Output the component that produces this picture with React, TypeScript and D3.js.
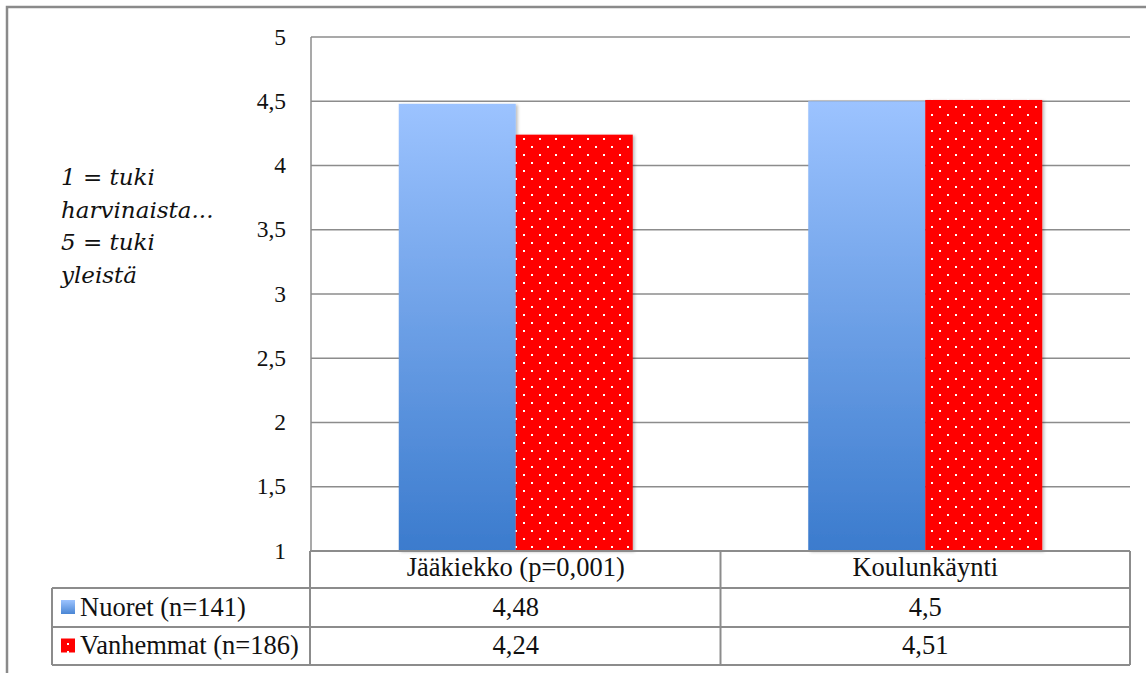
import React from "react";
import * as d3 from "d3";

// Chart data
const categories = ["Jääkiekko (p=0,001)", "Koulunkäynti"];
const seriesNames = ["Nuoret (n=141)", "Vanhemmat (n=186)"];
const nuoret = [4.48, 4.5];
const vanhemmat = [4.24, 4.51];
const yTicks = [1, 1.5, 2, 2.5, 3, 3.5, 4, 4.5, 5];
const axisTitleLines = ["1 = tuki", "harvinaista...", "5 = tuki", "yleistä"];

const W = 1146;
const H = 673;
const plotLeft = 311;
const plotRight = 1130;
const plotTop = 37;
const plotBottom = 551;
const rowEdges = [551, 588, 627, 665];
const tableLeft = 52;
const grid = "#8c8c8c";
const serifStyle = { fontFamily: "'Liberation Serif', 'Times New Roman', serif" };
const italicStyle = { fontFamily: "'DejaVu Serif', serif", fontStyle: "italic" as const };
const tableFont = 26.5;

const fmt = (v: number) => String(v).replace(".", ",");

export default function App() {
  const y = d3.scaleLinear().domain([1, 5]).range([plotBottom, plotTop]);
  const x0 = d3.scaleBand<string>().domain(categories).range([plotLeft, plotRight]);
  const groupW = 234;
  const x1 = d3.scaleBand<string>().domain(seriesNames).range([0, groupW]);
  const values = [nuoret, vanhemmat];
  const fills = ["url(#blueGrad)", "url(#dots)"];

  return (
    <svg
      width={W}
      height={H}
      style={{ position: "absolute", left: 0, top: 0, background: "#fff" }}
    >
      <defs>
        <linearGradient id="blueGrad" x1="0" y1="0" x2="0" y2="1">
          <stop offset="0" stopColor="#9cc3ff" />
          <stop offset="1" stopColor="#3b7bcd" />
        </linearGradient>
        <linearGradient id="blueKey" x1="0" y1="0" x2="0" y2="1">
          <stop offset="0" stopColor="#9cc3ff" />
          <stop offset="1" stopColor="#4a86d4" />
        </linearGradient>
        <pattern id="dots" width={16} height={16} patternUnits="userSpaceOnUse" x={3} y={2}>
          <rect width={16} height={16} fill="#ff0000" />
          <rect x={0} y={0} width={2} height={2} fill="#ffffff" />
          <rect x={8} y={8} width={2} height={2} fill="#ffffff" />
        </pattern>
        <pattern id="dotsKey" width={8} height={8} patternUnits="userSpaceOnUse" x={3} y={3}>
          <rect width={8} height={8} fill="#ff0000" />
          <rect x={0} y={0} width={2} height={2} fill="#ffffff" />
        </pattern>
        <filter id="shadow" x="-10%" y="-10%" width="130%" height="130%">
          <feDropShadow dx="2" dy="1" stdDeviation="1.5" floodColor="#000" floodOpacity="0.25" />
        </filter>
      </defs>

      {/* outer frame */}
      <rect x={7} y={7} width={1300} height={800} fill="none" stroke="#8a8a8a" strokeWidth={2.5} />

      {/* gridlines */}
      {yTicks.map((t) => (
        <line
          key={t}
          x1={plotLeft}
          x2={plotRight}
          y1={y(t)}
          y2={y(t)}
          stroke={grid}
          strokeWidth={1.5}
        />
      ))}
      <line x1={plotLeft} x2={plotLeft} y1={plotTop} y2={plotBottom} stroke={grid} strokeWidth={1.5} />

      {/* y tick labels */}
      {yTicks.map((t) => (
        <text
          key={t}
          x={286}
          y={y(t) + 7.5}
          textAnchor="end"
          style={serifStyle}
          fontSize={23.5}
          fill="#111"
        >
          {fmt(t)}
        </text>
      ))}

      {/* axis title */}
      {axisTitleLines.map((line, i) => (
        <text
          key={i}
          x={61}
          y={185 + i * 32.5}
          style={italicStyle}
          fontSize={23}
          fill="#111"
        >
          {line}
        </text>
      ))}

      {/* bars */}
      {categories.map((c, ci) => {
        const gx = (x0(c) as number) + (x0.bandwidth() - groupW) / 2;
        return seriesNames.map((s, si) => {
          const v = values[si][ci];
          return (
            <rect
              key={c + s}
              x={gx + (x1(s) as number)}
              y={y(v)}
              width={x1.bandwidth()}
              height={plotBottom - y(v)}
              fill={fills[si]}
              filter="url(#shadow)"
            />
          );
        });
      })}

      {/* data table */}
      <g stroke={grid} strokeWidth={2} fill="none">
        <line x1={plotLeft - 1} x2={plotRight} y1={rowEdges[0]} y2={rowEdges[0]} />
        {rowEdges.slice(1).map((ry) => (
          <line key={ry} x1={tableLeft} x2={plotRight} y1={ry} y2={ry} />
        ))}
        <line x1={tableLeft} x2={tableLeft} y1={rowEdges[1]} y2={rowEdges[3]} />
        <line x1={plotLeft - 1} x2={plotLeft - 1} y1={plotBottom} y2={rowEdges[3]} />
        {categories.map((c) => {
          const xe = (x0(c) as number) + x0.bandwidth();
          return <line key={c} x1={xe} x2={xe} y1={rowEdges[0]} y2={rowEdges[3]} />;
        })}
      </g>

      {categories.map((c) => (
        <text
          key={c}
          x={(x0(c) as number) + x0.bandwidth() / 2}
          y={576}
          textAnchor="middle"
          style={serifStyle}
          fontSize={tableFont}
          fill="#111"
        >
          {c}
        </text>
      ))}

      {seriesNames.map((s, si) => {
        const rowMid = (rowEdges[si + 1] + rowEdges[si + 2]) / 2;
        return (
          <g key={s}>
            <rect
              x={61}
              y={rowMid - 7.5}
              width={14}
              height={14}
              fill={si === 0 ? "url(#blueKey)" : "url(#dotsKey)"}
            />
            <text x={80} y={rowMid + 8} style={serifStyle} fontSize={tableFont} fill="#111">
              {s}
            </text>
            {categories.map((c, ci) => (
              <text
                key={c}
                x={(x0(c) as number) + x0.bandwidth() / 2}
                y={rowMid + 8}
                textAnchor="middle"
                style={serifStyle}
                fontSize={tableFont}
                fill="#111"
              >
                {fmt(values[si][ci])}
              </text>
            ))}
          </g>
        );
      })}
    </svg>
  );
}
